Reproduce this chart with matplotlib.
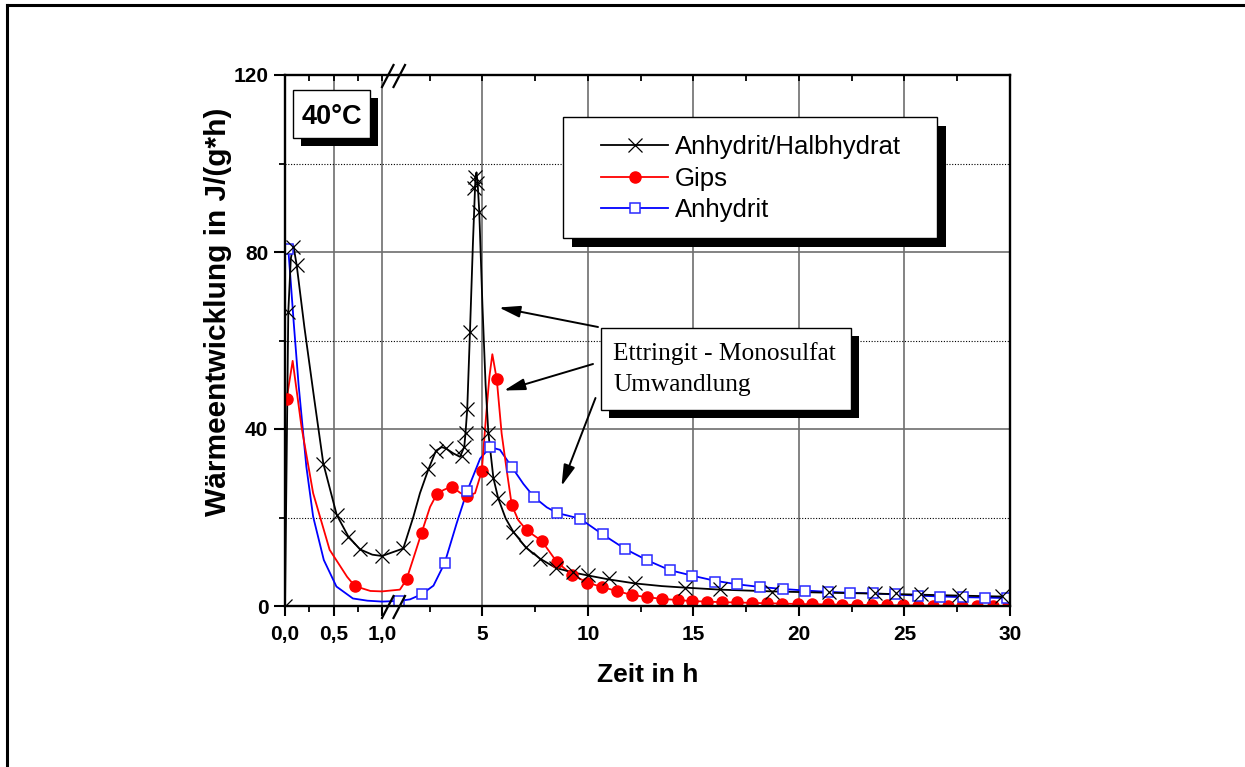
import numpy as np
import matplotlib
matplotlib.use("Agg")
import matplotlib.pyplot as plt
from matplotlib.ticker import FixedLocator, FixedFormatter
from matplotlib.transforms import Affine2D
from matplotlib.patches import Rectangle
from matplotlib.lines import Line2D

plt.rcParams['font.family'] = ['Liberation Sans', 'DejaVu Sans']
plt.rcParams['font.weight'] = 'bold'

# ---- data (time in h, heat flow in J/(g*h)) ----
series_names = ['Anhydrit/Halbhydrat', 'Gips', 'Anhydrit']

# Anhydrit/Halbhydrat: measured points (x markers)
ah_t = [0.0, 0.034, 0.086, 0.12, 0.395, 0.533, 0.653, 0.773, 1.0, 1.25, 2.44, 2.80,
        3.27, 4.02, 4.14, 4.20, 4.28, 4.41, 4.62, 4.67, 4.74, 4.85, 5.28, 5.52, 5.75,
        6.46, 7.06, 7.73, 8.48, 9.27, 10.0, 11.0, 12.23, 14.6, 16.26, 18.71, 21.4,
        23.6, 24.6, 25.8, 27.6, 29.6]
ah_q = [0.0, 66.5, 81.2, 77.1, 32.2, 20.6, 15.7, 12.8, 11.3, 13.0, 30.9, 35.1,
        35.6, 34.0, 36.0, 39.2, 44.5, 62.0, 94.4, 97.0, 95.5, 89.1, 39.2, 28.9, 24.3,
        16.8, 13.4, 10.6, 8.5, 7.7, 7.0, 6.25, 5.3, 4.0, 3.8, 3.25, 3.1,
        2.95, 2.85, 2.6, 2.4, 2.2]
# Anhydrit/Halbhydrat: traced curve
ah_line_t = [0.0, 0.034, 0.06, 0.086, 0.12, 0.2, 0.3, 0.395, 0.533, 0.653, 0.773, 0.9,
             1.0, 1.25, 1.73, 2.04, 2.44, 2.80, 3.07, 3.27, 3.62, 3.94, 4.14, 4.20,
             4.28, 4.41, 4.55, 4.67, 4.72, 4.78, 4.85, 5.0, 5.15, 5.28, 5.52, 5.75,
             6.1, 6.46, 7.06, 7.73, 8.48, 9.27, 10.0, 11.0, 12.23, 13.5, 14.6, 16.26,
             18.71, 21.4, 23.6, 25.8, 27.6, 30.0]
ah_line_q = [0.0, 66.5, 78.5, 81.5, 77.1, 63.0, 47.0, 32.2, 20.6, 15.7, 12.8, 11.6,
             11.3, 13.0, 20.2, 25.5, 30.9, 35.1, 35.9, 35.6, 34.5, 33.7, 36.0, 39.2,
             44.5, 62.0, 82.0, 97.0, 98.0, 95.0, 89.1, 68.0, 50.0, 39.2, 28.9, 24.3,
             19.8, 16.8, 13.2, 10.7, 8.6, 7.6, 6.9, 6.0, 5.1, 4.5, 4.15, 3.7,
             3.3, 3.0, 2.8, 2.55, 2.35, 2.1]

# Gips: measured points (filled circles)
gips_t = [0.017, 0.72, 1.41, 2.12, 2.83, 3.54, 4.26, 4.97, 5.68, 6.39, 7.10, 7.81,
          8.52, 9.23, 9.97, 10.65, 11.37, 12.07, 12.79, 13.53, 14.26, 14.95, 15.66,
          16.34, 17.08, 17.79, 18.47, 19.21, 19.94, 20.64, 21.36, 22.06, 22.77, 23.48,
          24.19, 24.92, 25.63, 26.34, 27.05, 27.74, 28.45, 29.18, 29.92]
gips_q = [46.8, 4.5, 6.1, 16.6, 25.2, 27.0, 24.8, 30.5, 51.2, 22.8, 17.1, 14.7,
          10.0, 7.1, 5.3, 4.3, 3.4, 2.5, 2.0, 1.6, 1.35, 1.1, 1.0,
          0.85, 0.8, 0.7, 0.62, 0.55, 0.45, 0.4, 0.35, 0.3, 0.25, 0.2,
          0.17, 0.15, 0.1, 0.08, 0.05, 0.03, 0.02, 0.01, 0.0]
# Gips: traced curve
gips_line_t = [0.017, 0.079, 0.17, 0.29, 0.46, 0.64, 0.72, 0.88, 1.0, 1.09, 1.2, 1.41,
               1.73, 2.12, 2.52, 2.83, 3.15, 3.54, 3.94, 4.26, 4.65, 4.97, 5.17, 5.33,
               5.47, 5.68, 5.91, 6.15, 6.39, 6.70, 7.10, 7.81, 8.52, 9.23, 9.97, 10.65,
               11.37, 12.07, 12.79, 13.53, 14.26, 14.95, 15.66, 16.34, 17.08, 17.79,
               18.47, 19.21, 19.94, 20.64, 21.36, 22.06, 22.77, 23.48, 24.19, 24.92,
               25.63, 26.34, 27.05, 27.74, 28.45, 29.18, 29.92, 30.0]
gips_line_q = [46.8, 55.4, 40.5, 25.5, 12.7, 6.6, 4.5, 3.4, 3.3, 3.7, 4.5, 6.1,
               10.8, 16.6, 22.4, 25.2, 26.2, 27.0, 25.6, 24.8, 25.5, 30.5, 42.8, 51.8,
               56.9, 51.2, 39.0, 30.7, 22.8, 19.4, 17.1, 14.7, 10.0, 7.1, 5.3, 4.3,
               3.4, 2.5, 2.0, 1.6, 1.35, 1.1, 1.0, 0.85, 0.8, 0.7,
               0.62, 0.55, 0.45, 0.4, 0.35, 0.3, 0.25, 0.2, 0.17, 0.15,
               0.1, 0.08, 0.05, 0.03, 0.02, 0.01, 0.0, 0.0]

# Anhydrit: measured points (open squares)
anh_t = [0.034, 1.06, 2.12, 3.21, 4.27, 5.36, 6.41, 7.45, 8.55, 9.63, 10.69, 11.76,
         12.82, 13.88, 14.95, 16.02, 17.08, 18.16, 19.23, 20.29, 21.36, 22.42, 23.50,
         24.55, 25.63, 26.69, 27.76, 28.82, 29.85]
anh_q = [80.6, 1.15, 2.65, 9.7, 25.9, 35.9, 31.3, 24.6, 21.0, 19.7, 16.2, 12.9,
         10.3, 8.1, 6.85, 5.5, 5.0, 4.2, 3.8, 3.5, 3.2, 3.0, 2.85,
         2.6, 2.3, 2.1, 2.0, 1.9, 1.75]
# Anhydrit: traced curve
anh_line_t = [0.034, 0.06, 0.09, 0.14, 0.22, 0.29, 0.40, 0.53, 0.70, 0.85, 1.0, 1.06,
              1.57, 2.12, 2.68, 3.21, 3.78, 4.27, 4.89, 5.36, 5.83, 6.41, 6.94, 7.45,
              8.05, 8.55, 9.07, 9.63, 10.18, 10.69, 11.76, 12.82, 13.88, 14.95, 16.02,
              17.08, 18.16, 19.23, 20.29, 21.36, 22.42, 23.50, 24.55, 25.63, 26.69,
              27.76, 28.82, 29.85, 30.0]
anh_line_q = [80.6, 73.0, 64.0, 50.0, 31.5, 20.2, 10.4, 4.4, 1.7, 1.2, 1.0, 1.15,
              1.5, 2.65, 4.6, 9.7, 18.7, 25.9, 33.3, 35.9, 35.3, 31.3, 27.6, 24.6,
              22.3, 21.0, 20.4, 19.7, 17.9, 16.2, 12.9, 10.3, 8.1, 6.85, 5.7,
              4.9, 4.3, 3.85, 3.5, 3.2, 3.0, 2.85, 2.6, 2.35, 2.15,
              2.0, 1.9, 1.8, 1.75]

x_major = [0, 0.5, 1.0, 5, 10, 15, 20, 25, 30]
x_major_labels = ['0,0', '0,5', '1,0', '5', '10', '15', '20', '25', '30']
x_minor = [0.25, 0.75, 2.5, 7.5, 12.5, 17.5, 22.5, 27.5]
y_major = [0, 40, 80, 120]
y_minor = [20, 60, 100]

# ---- broken time axis: 0..1 h stretched, then a gap, then 1..30 h ----
X_BREAK = 1.0
SEG2 = 21.1 / 97.0   # relative scale of the second part
GAP = 16.0 / 97.0    # width of the break


def fwd(x):
    x = np.asarray(x, dtype=float)
    return np.where(x <= X_BREAK, x, X_BREAK + GAP + (x - X_BREAK) * SEG2)


def inv(u):
    u = np.asarray(u, dtype=float)
    u2 = np.maximum(u - X_BREAK - GAP, 0.0)
    return np.where(u <= X_BREAK, u, X_BREAK + u2 / SEG2)


W, H = 1245, 767
fig = plt.figure(figsize=(W / 100, H / 100), dpi=100)
# pixel coordinates, y pointing down, for the boxes drawn on the page
PX = Affine2D().scale(1.0 / W, -1.0 / H).translate(0, 1) + fig.transFigure

ax = fig.add_axes([285 / W, 1 - 606 / H, 725 / W, 531 / H])
ax.set_xscale('function', functions=(fwd, inv))
ax.set_xlim(0, 30)
ax.set_ylim(0, 120)

blue = '#0000ff'
red = '#ff0000'

ax.plot(anh_line_t, anh_line_q, color=blue, lw=1.3, zorder=3)
ax.plot(gips_line_t, gips_line_q, color=red, lw=1.3, zorder=3)
ax.plot(ah_line_t, ah_line_q, color='k', lw=1.3, zorder=3)
ax.plot(gips_t, gips_q, ls='none', marker='o', ms=8, color=red, zorder=4)
ax.plot(anh_t, anh_q, ls='none', marker='s', ms=7, mfc='white', mec='#2a2aff',
        mew=1.1, zorder=5)
ax.plot(ah_t, ah_q, ls='none', marker='x', ms=10, mew=0.9, color='k', zorder=6)

ax.xaxis.set_major_locator(FixedLocator(x_major))
ax.xaxis.set_major_formatter(FixedFormatter(x_major_labels))
ax.xaxis.set_minor_locator(FixedLocator(x_minor))
ax.yaxis.set_major_locator(FixedLocator(y_major))
ax.yaxis.set_minor_locator(FixedLocator(y_minor))

ax.tick_params(axis='x', which='major', direction='out', length=7.5, width=1.5,
               labelsize=15, pad=6)
ax.tick_params(axis='x', which='minor', direction='out', length=4.5, width=1.3)
ax.tick_params(axis='y', which='major', direction='out', length=8, width=1.5,
               labelsize=15, pad=4)
ax.tick_params(axis='y', which='minor', direction='out', length=4.5, width=1.3)

ax.set_axisbelow(True)
ax.grid(True, which='major', axis='both', color='#6e6e6e', lw=1.2, ls='-')
ax.grid(True, which='minor', axis='y', color='k', lw=0.8, ls=(0, (1, 1.5)))
for s in ax.spines.values():
    s.set_linewidth(1.7)
    s.set_zorder(7)

ax.set_xlabel('Zeit in h', fontsize=19, fontweight='bold')
ax.xaxis.set_label_coords(0.5, -0.108)
ax.set_ylabel('Wärmeentwicklung in J/(g*h)', fontsize=21.5, fontweight='bold')
ax.yaxis.set_label_coords(-0.073, 0.554)

# top axis: inward ticks only
axt = ax.twiny()
axt.set_xscale('function', functions=(fwd, inv))
axt.set_xlim(0, 30)
axt.xaxis.set_major_locator(FixedLocator(x_major))
axt.xaxis.set_minor_locator(FixedLocator(x_minor))
axt.tick_params(axis='x', which='both', direction='in', length=4.5, width=1.3,
                labeltop=False)
for s in axt.spines.values():
    s.set_visible(False)

# break marks on bottom and top axis
xb = float(fwd(X_BREAK) / fwd(30.0))
aw, ah_px = 725.0, 531.0
for yb in (0.0, 1.0):
    for k in (0, 1):
        x0 = xb + k * 11.5 / aw
        ax.plot([x0, x0 + 11.5 / aw], [yb - 12 / ah_px, yb + 10 / ah_px],
                transform=ax.transAxes, color='k', lw=1.6, clip_on=False, zorder=8)


def shadow_box(x, y, w, h, off):
    fig.add_artist(Rectangle((x + off, y + off), w, h, transform=PX,
                             facecolor='k', edgecolor='k', lw=0, zorder=20))
    fig.add_artist(Rectangle((x, y), w, h, transform=PX, facecolor='white',
                             edgecolor='k', lw=1.0, zorder=21))


# temperature label
shadow_box(293, 90, 77, 48, 8)
fig.text(302, 123.5, '40°C', transform=PX, fontsize=19.5, fontweight='bold',
         ha='left', va='baseline', zorder=22)

# legend
shadow_box(563, 117, 374, 121, 9)
leg_styles = [dict(color='k', marker='x', ms=10, mew=0.9),
              dict(color=red, marker='o', ms=8),
              dict(color=blue, marker='s', ms=7, mfc='white', mec='#2a2aff', mew=1.1)]
for i, (name, st) in enumerate(zip(series_names, leg_styles)):
    yy = 145 + i * 31.7
    fig.add_artist(Line2D([601, 668], [yy, yy], transform=PX, color=st['color'],
                          lw=1.3, zorder=22))
    fig.add_artist(Line2D([634.5], [yy], transform=PX, ls='none', zorder=23, **st))
    fig.text(675, yy + 9, name, transform=PX, fontsize=18.5, fontweight='normal',
             ha='left', va='baseline', zorder=22)

# annotation box with arrows
shadow_box(601, 328, 250, 82, 8)
fig.text(613, 360, 'Ettringit - Monosulfat', transform=PX, fontsize=18.3,
         family='Liberation Serif', fontweight='normal', va='baseline', zorder=22)
fig.text(613, 391.5, 'Umwandlung', transform=PX, fontsize=18.3,
         family='Liberation Serif', fontweight='normal', va='baseline', zorder=22)

arrow_props = dict(arrowstyle='-|>,head_length=0.8,head_width=0.22', color='k',
                   lw=1.4, shrinkA=0, shrinkB=0, mutation_scale=16)
for start, end in [((598, 327), (499, 307.5)),
                   ((593, 364), (504, 390.5)),
                   ((595.5, 398), (561.5, 486))]:
    ax.annotate('', xy=end, xytext=start, xycoords=PX, textcoords=PX,
                arrowprops=arrow_props, annotation_clip=False)

# page frame (top and left edge)
fig.add_artist(Line2D([7, W], [5, 5], transform=PX, color='k', lw=2.2))
fig.add_artist(Line2D([7, 7], [5, H], transform=PX, color='k', lw=2.2))

fig.savefig('out.png', dpi=100)
